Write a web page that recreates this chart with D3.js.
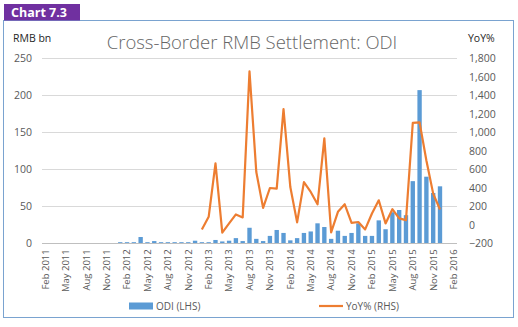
<!DOCTYPE html>
<html>
<head>
<meta charset="utf-8">
<script src="https://cdn.jsdelivr.net/npm/d3@7"></script>
<style>
  html, body { margin: 0; padding: 0; background: #ffffff; }
  svg { display: block; }
  text { font-family: "Open Sans", "DejaVu Sans", sans-serif; }
</style>
</head>
<body>
<svg id="chart" width="518" height="327"></svg>
<script>
// ---- Data ----
const months = [
  "Feb 2011","Mar 2011","Apr 2011","May 2011","Jun 2011","Jul 2011","Aug 2011","Sep 2011","Oct 2011","Nov 2011","Dec 2011",
  "Jan 2012","Feb 2012","Mar 2012","Apr 2012","May 2012","Jun 2012","Jul 2012","Aug 2012","Sep 2012","Oct 2012","Nov 2012","Dec 2012",
  "Jan 2013","Feb 2013","Mar 2013","Apr 2013","May 2013","Jun 2013","Jul 2013","Aug 2013","Sep 2013","Oct 2013","Nov 2013","Dec 2013",
  "Jan 2014","Feb 2014","Mar 2014","Apr 2014","May 2014","Jun 2014","Jul 2014","Aug 2014","Sep 2014","Oct 2014","Nov 2014","Dec 2014",
  "Jan 2015","Feb 2015","Mar 2015","Apr 2015","May 2015","Jun 2015","Jul 2015","Aug 2015","Sep 2015","Oct 2015","Nov 2015","Dec 2015",
  "Jan 2016","Feb 2016"
];
const odi = [
  null,null,null,null,null,null,null,null,null,null,null,
  1.5,1.5,1.5,8.5,1.5,3,1.5,1.5,1.5,1.5,1.5,3.5,
  1.5,1.5,4.5,2.5,3.5,7,3,21,6,3,10,18,
  14,4,7,14,16,27,22,6,17,10,14,27,
  10,10,31,19,42,45,38,84,207,90,68,77,
  null,null
];
const yoy = [
  null,null,null,null,null,null,null,null,null,null,null,
  null,null,null,null,null,null,null,null,null,null,null,null,
  -50,86,665,-85,15,112,80,1660,570,183,398,391,
  1251,408,26,462,355,222,935,-82,140,222,21,30,
  -50,122,265,15,169,69,50,1101,1107,695,337,165,
  null,null
];
const leftTicks = [0,50,100,150,200,250];
const rightTicks = [-200,0,200,400,600,800,1000,1200,1400,1600,1800];
const title = "Cross-Border RMB Settlement: ODI";
const tabLabel = "Chart 7.3";
const seriesNames = ["ODI (LHS)", "YoY% (RHS)"];

// ---- Layout ----
const svg = d3.select("#chart");
const plot = {left: 42, right: 457, top: 58.3, bottom: 243.3};
const grey = "#595959";

// frame + tab
svg.append("rect").attr("x", 3.5).attr("y", 20.5).attr("width", 510).attr("height", 297)
  .attr("fill", "none").attr("stroke", "#7aa3d0").attr("stroke-width", 1);
svg.append("rect").attr("x", 4).attr("y", 4).attr("width", 76).attr("height", 16.5).attr("fill", "#7030a0");
svg.append("text").attr("x", 11).attr("y", 17).attr("fill", "#fff")
  .attr("font-size", 12.5).attr("font-weight", 700).text(tabLabel);

// scales
const x = d3.scaleBand().domain(months).range([plot.left, plot.right]).paddingInner(0.36).paddingOuter(0.18);
const yL = d3.scaleLinear().domain([0, 250]).range([plot.bottom, plot.top]);
const yR = d3.scaleLinear().domain([-200, 1800]).range([plot.bottom, plot.top]);

// gridlines
svg.append("g").selectAll("line").data(leftTicks.filter(d => d > 0)).join("line")
  .attr("x1", plot.left).attr("x2", plot.right)
  .attr("y1", d => Math.round(yL(d)) + 0.5).attr("y2", d => Math.round(yL(d)) + 0.5)
  .attr("stroke", "#d9d9d9").attr("stroke-width", 1);

// left axis
const axL = svg.append("g").attr("transform", `translate(${plot.left},0)`)
  .call(d3.axisLeft(yL).tickValues(leftTicks).tickSize(0).tickPadding(10));
axL.select(".domain").remove();
axL.selectAll("text").attr("font-size", 10.5).attr("fill", grey).attr("font-family", "Open Sans");

// right axis
const axR = svg.append("g").attr("transform", `translate(${plot.right},0)`)
  .call(d3.axisRight(yR).tickValues(rightTicks).tickSize(0).tickPadding(12).tickFormat(d3.format(",")));
axR.select(".domain").remove();
axR.selectAll("text").attr("font-size", 10.5).attr("fill", grey).attr("font-family", "Open Sans");

// bars
svg.append("g").selectAll("rect").data(months.map((m, i) => ({m, v: odi[i]})).filter(d => d.v != null)).join("rect")
  .attr("x", d => x(d.m)).attr("width", x.bandwidth())
  .attr("y", d => yL(d.v)).attr("height", d => yL(0) - yL(d.v))
  .attr("fill", "#5b9bd5");

// baseline
svg.append("line").attr("x1", plot.left).attr("x2", plot.right)
  .attr("y1", Math.round(yL(0)) + 0.5).attr("y2", Math.round(yL(0)) + 0.5)
  .attr("stroke", "#bfbfbf");

// line
const lineData = months.map((m, i) => ({m, v: yoy[i]}));
svg.append("path").datum(lineData)
  .attr("d", d3.line().defined(d => d.v != null).x(d => x(d.m) + x.bandwidth() / 2).y(d => yR(d.v)))
  .attr("fill", "none").attr("stroke", "#ed7d31").attr("stroke-width", 2.2).attr("stroke-linejoin", "round");

// x axis labels
const xTicks = months.filter((m, i) => i % 3 === 0);
const axX = svg.append("g").attr("transform", `translate(0,${plot.bottom})`)
  .call(d3.axisBottom(x).tickValues(xTicks).tickSize(0).tickPadding(0));
axX.select(".domain").remove();
axX.selectAll("text")
  .attr("font-size", 9.5).attr("fill", grey).attr("font-family", "Open Sans")
  .attr("text-anchor", "end").attr("dy", "0.35em")
  .attr("transform", "translate(0,6) rotate(-90)").attr("x", 0).attr("y", 0);

// title & axis titles
svg.append("text").attr("x", 252).attr("y", 49).attr("text-anchor", "middle")
  .attr("font-size", 18.5).attr("font-weight", 300).attr("fill", "#666666").text(title);
svg.append("text").attr("x", 13).attr("y", 42).attr("font-size", 10.5).attr("fill", "#262626").text("RMB bn");
svg.append("text").attr("x", 468).attr("y", 42).attr("font-size", 10.5).attr("fill", "#262626").text("YoY%");

// legend
const lg = svg.append("g");
lg.append("rect").attr("x", 129).attr("y", 302.5).attr("width", 24).attr("height", 7).attr("fill", "#5b9bd5");
lg.append("text").attr("x", 156).attr("y", 309.5).attr("font-size", 10).attr("fill", grey).text(seriesNames[0]);
lg.append("line").attr("x1", 319).attr("x2", 343).attr("y1", 306).attr("y2", 306)
  .attr("stroke", "#ed7d31").attr("stroke-width", 2.2);
lg.append("text").attr("x", 346).attr("y", 309.5).attr("font-size", 10).attr("fill", grey).text(seriesNames[1]);
</script>
</body>
</html>
